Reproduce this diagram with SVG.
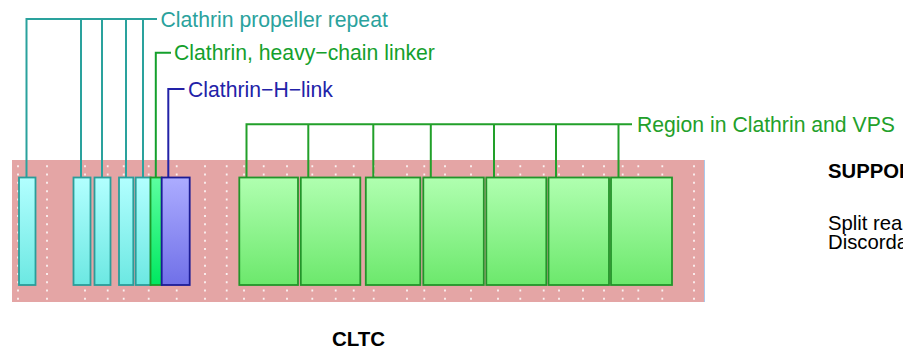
<svg xmlns="http://www.w3.org/2000/svg" width="903" height="352" viewBox="0 0 903 352">
<defs>
<linearGradient id="gCyan" x1="0" y1="0" x2="0" y2="1"><stop offset="0" stop-color="#b2ffff"/><stop offset="1" stop-color="#6ce8e2"/></linearGradient>
<linearGradient id="gLink" x1="0" y1="0" x2="0" y2="1"><stop offset="0" stop-color="#5cffa0"/><stop offset="1" stop-color="#00e860"/></linearGradient>
<linearGradient id="gBlue" x1="0" y1="0" x2="0" y2="1"><stop offset="0" stop-color="#acacff"/><stop offset="1" stop-color="#7070e8"/></linearGradient>
<linearGradient id="gGreen" x1="0" y1="0" x2="0" y2="1"><stop offset="0" stop-color="#b0ffb0"/><stop offset="1" stop-color="#6ce86c"/></linearGradient>
</defs>
<style>
.lbl{font-family:"Liberation Sans",Arial,sans-serif;font-size:21.2px}
.dots line{stroke:#ffffff;stroke-opacity:0.85;stroke-width:1.8;stroke-dasharray:2 6.28}
.cy{fill:url(#gCyan);stroke:#2a9d9a;stroke-width:1.8}
.lk{fill:url(#gLink);stroke:#1c9a2a;stroke-width:1.8}
.bl{fill:url(#gBlue);stroke:#1c1c96;stroke-width:1.8}
.gr{fill:url(#gGreen);stroke:#22952a;stroke-width:1.8}
.cn{fill:none;stroke-width:2}
</style>
<rect x="0" y="0" width="903" height="352" fill="#ffffff"/>
<g id="track">
<rect x="12" y="160" width="692" height="142" fill="#e4a5a5"/>
<line x1="704.5" y1="160" x2="704.5" y2="302" stroke="#a8c8ec" stroke-width="1"/>
<g class="dots">
<line x1="18" y1="165.3" x2="18" y2="300"/><line x1="47" y1="165.3" x2="47" y2="300"/>
<line x1="85" y1="165.3" x2="85" y2="300"/><line x1="107.7" y1="165.3" x2="107.7" y2="300"/>
<line x1="123.7" y1="165.3" x2="123.7" y2="300"/><line x1="148.7" y1="165.3" x2="148.7" y2="300"/>
<line x1="176.7" y1="165.3" x2="176.7" y2="300"/><line x1="205" y1="165.3" x2="205" y2="300"/>
<line x1="226.7" y1="165.3" x2="226.7" y2="300"/><line x1="244" y1="165.3" x2="244" y2="300"/>
<line x1="263.7" y1="165.3" x2="263.7" y2="300"/><line x1="287" y1="165.3" x2="287" y2="300"/>
<line x1="312.3" y1="165.3" x2="312.3" y2="300"/><line x1="335.7" y1="165.3" x2="335.7" y2="300"/>
<line x1="353.7" y1="165.3" x2="353.7" y2="300"/><line x1="373.7" y1="165.3" x2="373.7" y2="300"/>
<line x1="407" y1="165.3" x2="407" y2="300"/><line x1="424.3" y1="165.3" x2="424.3" y2="300"/>
<line x1="445" y1="165.3" x2="445" y2="300"/><line x1="471" y1="165.3" x2="471" y2="300"/>
<line x1="498" y1="165.3" x2="498" y2="300"/><line x1="520.3" y1="165.3" x2="520.3" y2="300"/>
<line x1="543.7" y1="165.3" x2="543.7" y2="300"/><line x1="559" y1="165.3" x2="559" y2="300"/>
<line x1="583" y1="165.3" x2="583" y2="300"/><line x1="604" y1="165.3" x2="604" y2="300"/>
<line x1="622.7" y1="165.3" x2="622.7" y2="300"/><line x1="638.3" y1="165.3" x2="638.3" y2="300"/>
<line x1="662.3" y1="165.3" x2="662.3" y2="300"/><line x1="694" y1="165.3" x2="694" y2="300"/>
</g>
</g>
<g id="connectors">
<path class="cn" stroke="#2aa29d" d="M26.5,177 V19 H157 M81,177 V19 M102,177 V19 M126,177 V19 M143,177 V19"/>
<path class="cn" stroke="#14a02c" d="M155.8,177 V52.7 H171"/>
<path class="cn" stroke="#2222a8" d="M168.3,177 V89 H184.5"/>
<path class="cn" stroke="#22a02a" d="M246.5,177 V124.3 H632 M308.3,177 V124.3 M373.3,177 V124.3 M430.8,177 V124.3 M494,177 V124.3 M556,177 V124.3 M618.5,177 V124.3"/>
</g>
<g id="propeller1"><rect class="cy" x="19" y="177.5" width="16.5" height="107.5"/></g>
<g id="propeller2"><rect class="cy" x="73.5" y="177.5" width="17" height="107.5"/></g>
<g id="propeller3"><rect class="cy" x="94.5" y="177.5" width="16" height="107.5"/></g>
<g id="propeller4"><rect class="cy" x="119" y="177.5" width="14.3" height="107.5"/></g>
<g id="propeller5"><rect class="cy" x="135.7" y="177.5" width="15" height="107.5"/></g>
<g id="linker"><rect class="lk" x="150.5" y="177.5" width="11.2" height="107.5"/></g>
<g id="hlink"><rect class="bl" x="161.7" y="177.5" width="28" height="107.5"/></g>
<g id="vps1"><rect class="gr" x="239.3" y="177.5" width="58.7" height="107.5"/></g>
<g id="vps2"><rect class="gr" x="300.8" y="177.5" width="59.5" height="107.5"/></g>
<g id="vps3"><rect class="gr" x="365.8" y="177.5" width="54.5" height="107.5"/></g>
<g id="vps4"><rect class="gr" x="423.3" y="177.5" width="60.5" height="107.5"/></g>
<g id="vps5"><rect class="gr" x="486.3" y="177.5" width="60" height="107.5"/></g>
<g id="vps6"><rect class="gr" x="548.5" y="177.5" width="60.5" height="107.5"/></g>
<g id="vps7"><rect class="gr" x="611" y="177.5" width="61" height="107.5"/></g>
<g id="labels">
<text class="lbl" x="160.5" y="26.5" fill="#2aa29d">Clathrin propeller repeat</text>
<text class="lbl" x="174" y="60.2" fill="#14a02c">Clathrin, heavy−chain linker</text>
<text class="lbl" x="188" y="96.5" fill="#2222a8">Clathrin−H−link</text>
<text class="lbl" x="637" y="131.8" fill="#22a02a">Region in Clathrin and VPS</text>
<text x="358.5" y="346" text-anchor="middle" font-family="'Liberation Sans',Arial,sans-serif" font-size="20.5" font-weight="bold" fill="#000000">CLTC</text>
</g>
<g id="support" font-family="'Liberation Sans',Arial,sans-serif" font-size="20.3" fill="#000000">
<text x="828" y="178" font-weight="bold">SUPPORT</text>
<text x="828" y="230">Split reads</text>
<text x="828" y="249">Discordant pairs</text>
</g>
</svg>
